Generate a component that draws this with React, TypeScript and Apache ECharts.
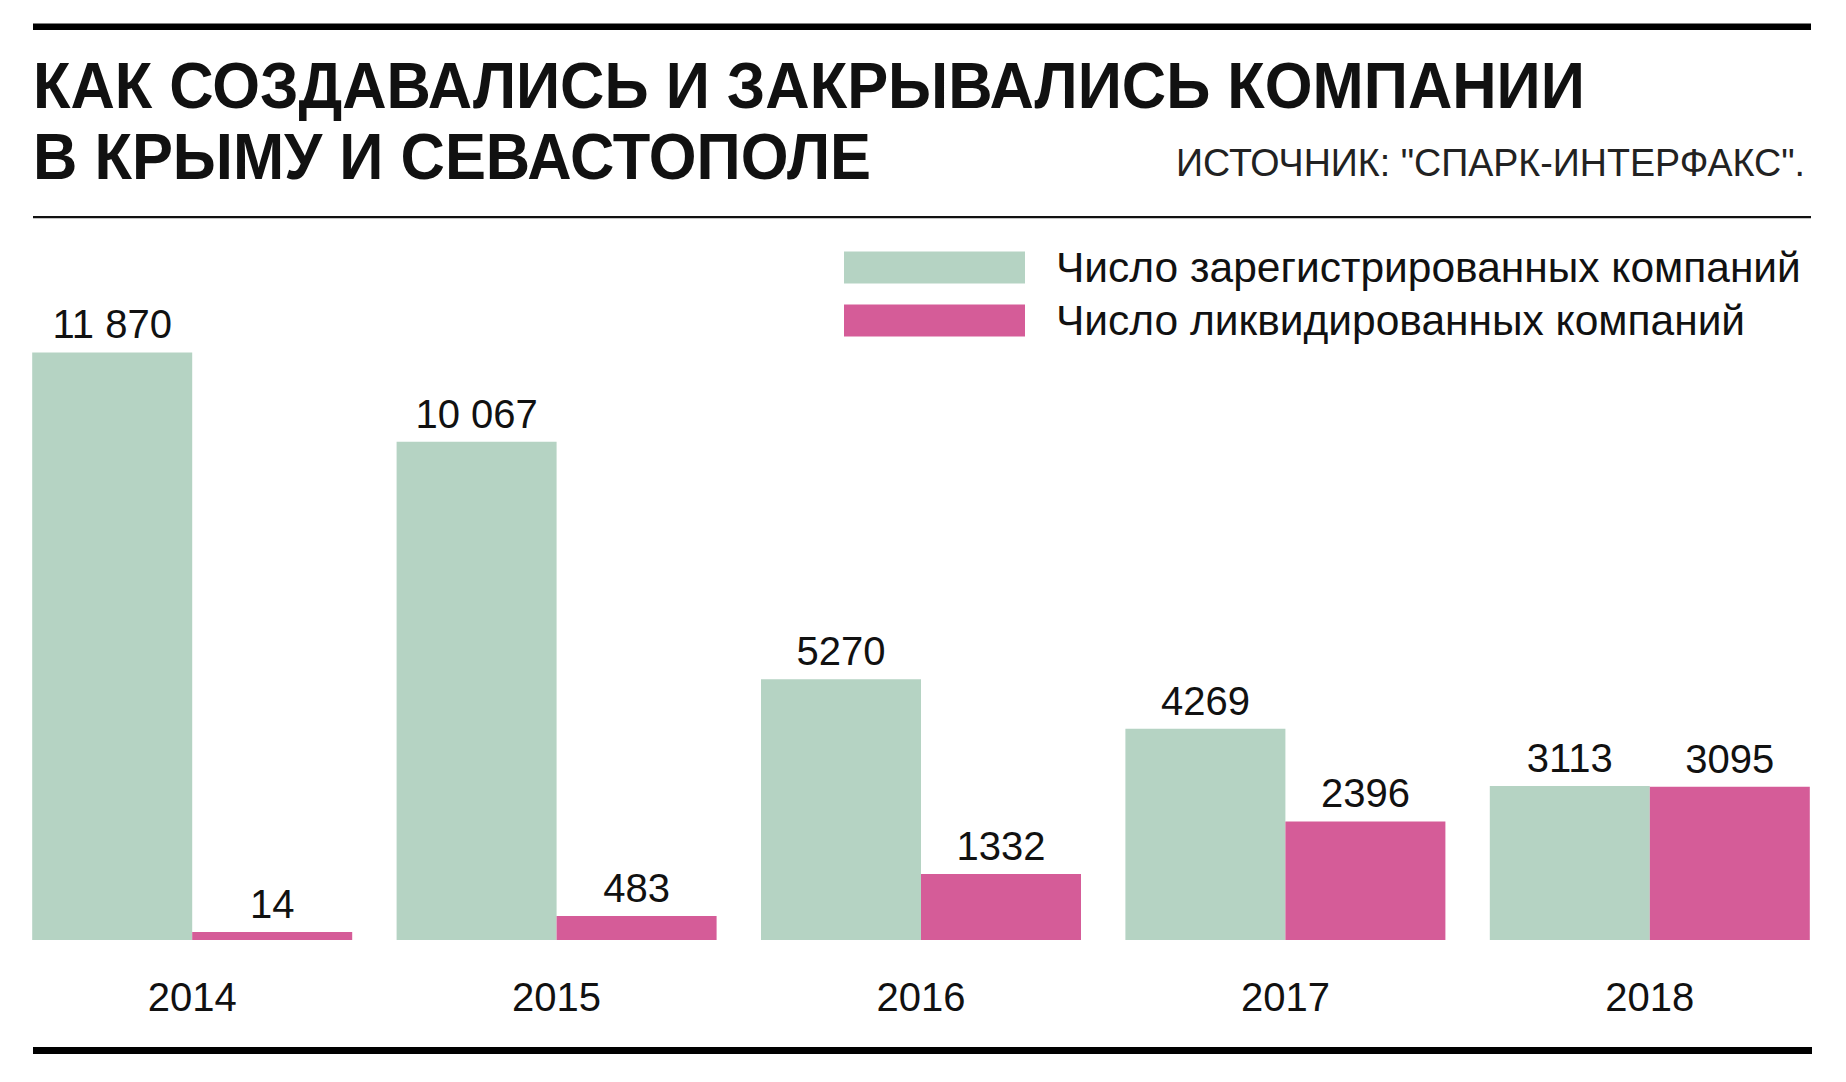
import React, { useEffect, useRef } from "react";
import * as echarts from "echarts";

const categories = ["2014", "2015", "2016", "2017", "2018"];
const registered = [11870, 10067, 5270, 4269, 3113];
const liquidated = [14, 483, 1332, 2396, 3095];
const seriesNames = ["Число зарегистрированных компаний", "Число ликвидированных компаний"];
const titleLines = ["КАК СОЗДАВАЛИСЬ И ЗАКРЫВАЛИСЬ КОМПАНИИ", "В КРЫМУ И СЕВАСТОПОЛЕ"];
const sourceText = 'ИСТОЧНИК: "СПАРК-ИНТЕРФАКС".';

const GREEN = "#b5d3c3";
const PINK = "#d55c98";
const FONT = "'Liberation Sans', Arial, Helvetica, sans-serif";

function fmt(v: number): string {
  const s = String(v);
  if (v >= 10000) return s.slice(0, s.length - 3) + " " + s.slice(s.length - 3);
  return s;
}

export default function App() {
  const ref = useRef<HTMLDivElement>(null);
  useEffect(() => {
    document.body.style.margin = "0";
    const chart = echarts.init(ref.current!, null, { renderer: "svg" });
    const labelCfg = {
      show: true,
      position: "top" as const,
      distance: 8,
      fontSize: 40,
      fontFamily: FONT,
      color: "#111",
      formatter: (p: any) => fmt(p.value),
    };
    chart.setOption({
      animation: false,
      backgroundColor: "#ffffff",
      textStyle: { fontFamily: FONT },
      grid: { left: 10, right: 14, top: 346, bottom: 142 },
      legend: {
        left: 844,
        top: 246,
        padding: 0,
        orient: "vertical",
        icon: "rect",
        itemWidth: 181,
        itemHeight: 32,
        itemGap: 10,
        selectedMode: false,
        textStyle: { fontSize: 42.5, lineHeight: 42, color: "#111", fontFamily: FONT, padding: [0, 0, 0, 26] },
        data: seriesNames,
      },
      xAxis: {
        type: "category",
        data: categories,
        axisLine: { show: false },
        axisTick: { show: false },
        axisLabel: { fontSize: 40, color: "#111", margin: 37, fontFamily: FONT },
      },
      yAxis: { type: "value", min: 0, max: 12000, show: false, splitLine: { show: false } },
      series: [
        {
          name: seriesNames[0],
          type: "bar",
          data: registered,
          barWidth: 160,
          barGap: "0%",
          itemStyle: { color: GREEN },
          label: labelCfg,
        },
        {
          name: seriesNames[1],
          type: "bar",
          data: liquidated,
          barWidth: 160,
          barGap: "0%",
          barMinHeight: 8,
          itemStyle: { color: PINK },
          label: labelCfg,
        },
      ],
      graphic: [
        { type: "rect", shape: { x: 33, y: 23.5, width: 1778, height: 6.5 }, style: { fill: "#000" } },
        { type: "rect", shape: { x: 33, y: 216, width: 1778, height: 2.2 }, style: { fill: "#111" } },
        { type: "rect", shape: { x: 33, y: 1047, width: 1779, height: 7 }, style: { fill: "#000" } },
        {
          type: "text",
          x: 33,
          y: 85,
          scaleX: 0.945,
          style: { text: titleLines[0], x: 0, y: 0, fontSize: 65, fontWeight: "bold", fontFamily: FONT, fill: "#111", align: "left", verticalAlign: "middle" },
        },
        {
          type: "text",
          x: 33,
          y: 156,
          scaleX: 0.945,
          style: { text: titleLines[1], x: 0, y: 0, fontSize: 65, fontWeight: "bold", fontFamily: FONT, fill: "#111", align: "left", verticalAlign: "middle" },
        },
        {
          type: "text",
          x: 1805,
          y: 163,
          scaleX: 0.99,
          style: { text: sourceText, x: 0, y: 0, fontSize: 38, fontFamily: FONT, fill: "#222", align: "right", verticalAlign: "middle" },
        },
      ],
    });
    return () => chart.dispose();
  }, []);
  return <div ref={ref} style={{ width: 1846, height: 1082 }} />;
}
